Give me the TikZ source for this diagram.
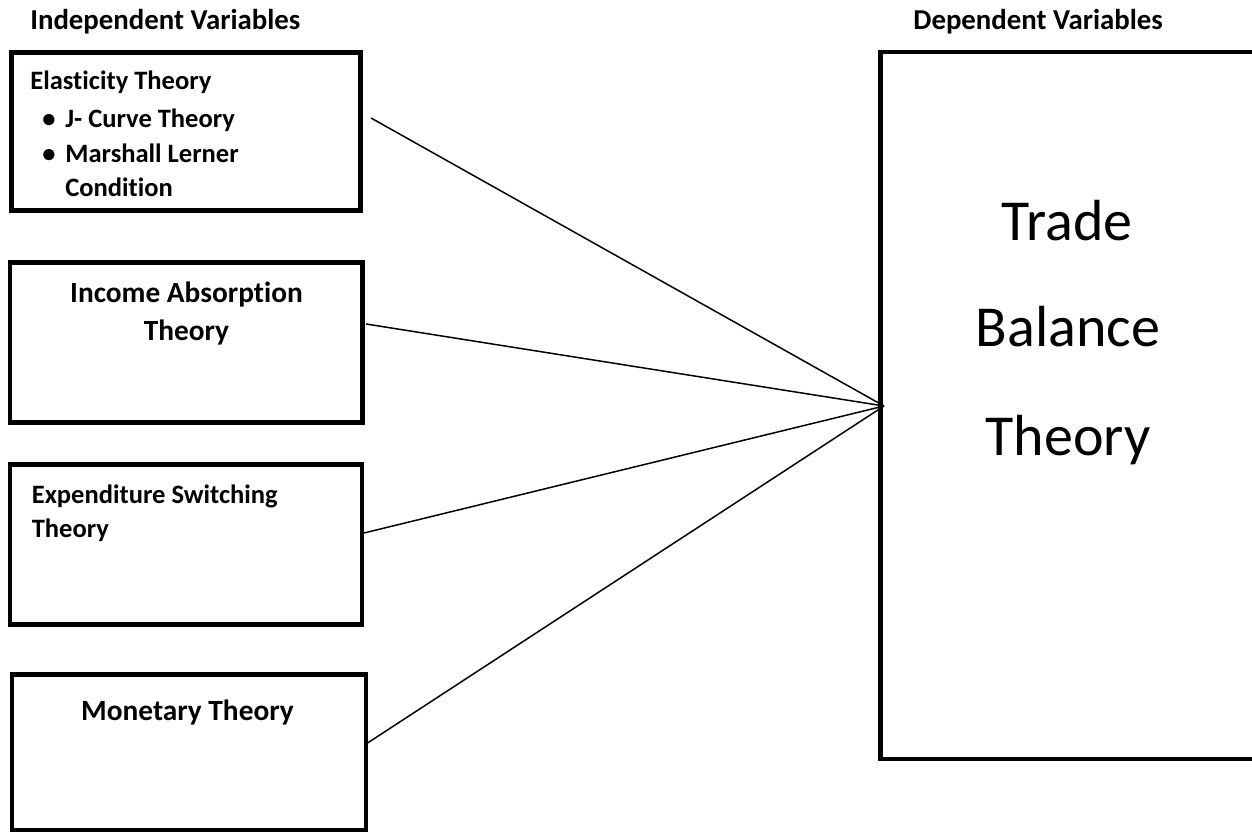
\documentclass[tikz,border=0pt]{standalone}
\usepackage{fontspec}
\setmainfont{Carlito}[Ligatures=NoCommon]
\usepackage{tikz}
\usetikzlibrary{positioning}

\tikzset{
  varbox/.style={draw, line width=2.7pt, rectangle, inner sep=0pt},
  link/.style={line width=0.85pt},
  headtext/.style={font=\fontsize{16.4}{19}\selectfont\bfseries, anchor=base west, inner sep=0pt},
  boxtext/.style={font=\fontsize{15.1}{18}\selectfont\bfseries, inner sep=0pt},
  boxtextl/.style={font=\fontsize{16.7}{20}\selectfont\bfseries, inner sep=0pt},
  bigtext/.style={font=\fontsize{33}{38}\selectfont, anchor=base, inner sep=0pt}
}

\begin{document}
\begin{tikzpicture}

  \useasboundingbox (0,0) rectangle (25.04,16.68);

  % headings
  \node[headtext] (indep) at (0.60, 16.08) {Independent Variables};
  \node[headtext] (dep)   at (18.26, 16.08) {Dependent Variables};

  % independent variable boxes
  \node[varbox, minimum width=6.98cm, minimum height=3.16cm] (elast)  at (3.72, 14.05) {};
  \node[varbox, minimum width=7.05cm, minimum height=3.2cm]  (incabs) at (3.725, 9.83) {};
  \node[varbox, minimum width=7.04cm, minimum height=3.2cm]  (expsw)  at (3.72, 5.79) {};
  \node[varbox, minimum width=7.08cm, minimum height=3.11cm] (monet)  at (3.78, 1.635) {};

  % dependent variable box
  \node[varbox, minimum width=7.8cm, minimum height=14.14cm] (trade) at (21.51, 8.57) {};

  % box texts
  \node[boxtext, anchor=base west] (elast-t) at (0.60, 14.88) {Elasticity Theory};
  \node[boxtext, anchor=base] (bul1) at (0.98, 14.12) {\textbullet};
  \node[boxtext, anchor=base west] (jcurve) at (1.30, 14.12) {J- Curve Theory};
  \node[boxtext, anchor=base] (bul2) at (0.98, 13.42) {\textbullet};
  \node[boxtext, anchor=base west] (marsh) at (1.30, 13.42) {Marshall Lerner};
  \node[boxtext, anchor=base west] (cond)  at (1.30, 12.74) {Condition};

  \node[boxtextl, anchor=base] (incabs-t1) at (3.73, 10.62) {Income Absorption};
  \node[boxtextl, anchor=base] (incabs-t2) at (3.73, 9.87) {Theory};

  \node[boxtext, anchor=base west] (expsw-t1) at (0.63, 6.61) {Expenditure Switching};
  \node[boxtext, anchor=base west] (expsw-t2) at (0.63, 5.93) {Theory};

  \node[boxtextl, anchor=base] (monet-t) at (3.75, 2.27) {Monetary Theory};

  \node[bigtext] (trade-t1) at (21.34, 11.86) {Trade};
  \node[bigtext] (trade-t2) at (21.36, 9.75)  {Balance};
  \node[bigtext] (trade-t3) at (21.36, 7.58)  {Theory};

  % connectors
  \coordinate (hub)     at (17.68, 8.56);
  \coordinate (elast-o) at (7.42, 14.32);
  \coordinate (incabs-o) at (7.32, 10.20);
  \coordinate (expsw-o) at (7.28, 6.02);
  \coordinate (monet-o) at (7.32, 1.80);

  \draw[link] (elast-o)  -- (hub);
  \draw[link] (incabs-o) -- (hub);
  \draw[link] (expsw-o)  -- (hub);
  \draw[link] (monet-o)  -- (hub);

\end{tikzpicture}
\end{document}
